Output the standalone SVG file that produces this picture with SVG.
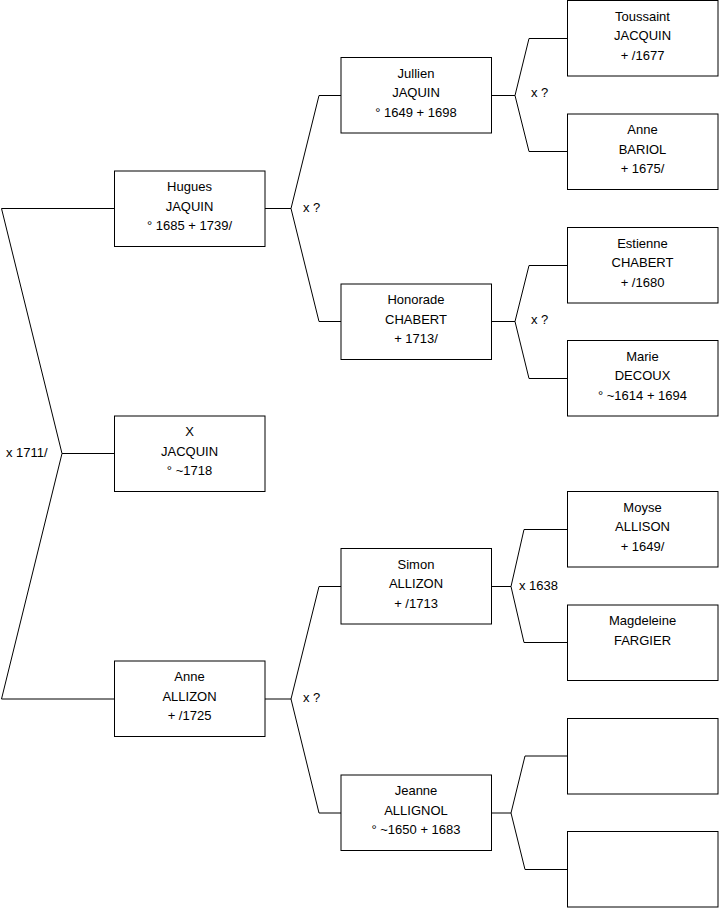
<svg xmlns="http://www.w3.org/2000/svg" width="719" height="908" viewBox="0 0 719 908">
<style>
rect.box{fill:#fff;stroke:#000;stroke-width:1}
text{font-family:"Liberation Sans",Arial,sans-serif;font-size:13px;fill:#000}
text.c{text-anchor:middle}
.conn path{fill:none;stroke:#000;stroke-width:1}
</style>
<rect width="719" height="908" fill="#fff"/>
<g class="conn" id="connectors">
<path d="M114,208.5H1.5L62,453.5H114M62,453.5L1.5,699H114"/>
<path d="M265,208.5H291L319,95.5H341M291,208.5L319,321.5H341"/>
<path d="M265,699H291L319,586.5H341M291,699L319,813H341"/>
<path d="M491,95.5H515L529,38.5H567M515,95.5L529,151.5H567"/>
<path d="M491,321.5H515L529,265.5H567M515,321.5L529,378.5H567"/>
<path d="M491,586.5H511L524,529.5H567M511,586.5L524,642.5H567"/>
<path d="M491,813H511L525,756H567M511,813L525,869.5H567"/>
<text x="6" y="457">x 1711/</text>
<text x="303" y="212">x ?</text>
<text x="303" y="702">x ?</text>
<text x="531" y="97">x ?</text>
<text x="531" y="324">x ?</text>
<text x="519" y="590">x 1638</text>
</g>
<g id="hugues"><rect class="box" x="114.5" y="171" width="150.5" height="75.5"/><text class="c" x="189.5" y="191">Hugues</text><text class="c" x="189.5" y="210.5">JAQUIN</text><text class="c" x="189.5" y="230">° 1685 + 1739/</text></g>
<g id="x-jacquin"><rect class="box" x="114.5" y="416" width="150.5" height="75.5"/><text class="c" x="189.5" y="436">X</text><text class="c" x="189.5" y="455.5">JACQUIN</text><text class="c" x="189.5" y="475">° ~1718</text></g>
<g id="anne-allizon"><rect class="box" x="114.5" y="661" width="150.5" height="75.5"/><text class="c" x="189.5" y="681">Anne</text><text class="c" x="189.5" y="700.5">ALLIZON</text><text class="c" x="189.5" y="720">+ /1725</text></g>
<g id="jullien"><rect class="box" x="341" y="57.5" width="150.5" height="75.5"/><text class="c" x="416" y="77.5">Jullien</text><text class="c" x="416" y="97">JAQUIN</text><text class="c" x="416" y="116.5">° 1649 + 1698</text></g>
<g id="honorade"><rect class="box" x="341" y="284" width="150.5" height="75.5"/><text class="c" x="416" y="304">Honorade</text><text class="c" x="416" y="323.5">CHABERT</text><text class="c" x="416" y="343">+ 1713/</text></g>
<g id="simon"><rect class="box" x="341" y="548.5" width="150.5" height="75.5"/><text class="c" x="416" y="568.5">Simon</text><text class="c" x="416" y="588">ALLIZON</text><text class="c" x="416" y="607.5">+ /1713</text></g>
<g id="jeanne"><rect class="box" x="341" y="775" width="150.5" height="75.5"/><text class="c" x="416" y="795">Jeanne</text><text class="c" x="416" y="814.5">ALLIGNOL</text><text class="c" x="416" y="834">° ~1650 + 1683</text></g>
<g id="toussaint"><rect class="box" x="567.5" y="0.5" width="150.5" height="75.5"/><text class="c" x="642.5" y="20.5">Toussaint</text><text class="c" x="642.5" y="40">JACQUIN</text><text class="c" x="642.5" y="59.5">+ /1677</text></g>
<g id="anne-bariol"><rect class="box" x="567.5" y="114" width="150.5" height="75.5"/><text class="c" x="642.5" y="134">Anne</text><text class="c" x="642.5" y="153.5">BARIOL</text><text class="c" x="642.5" y="173">+ 1675/</text></g>
<g id="estienne"><rect class="box" x="567.5" y="227.5" width="150.5" height="75.5"/><text class="c" x="642.5" y="247.5">Estienne</text><text class="c" x="642.5" y="267">CHABERT</text><text class="c" x="642.5" y="286.5">+ /1680</text></g>
<g id="marie"><rect class="box" x="567.5" y="340.5" width="150.5" height="75.5"/><text class="c" x="642.5" y="360.5">Marie</text><text class="c" x="642.5" y="380">DECOUX</text><text class="c" x="642.5" y="399.5">° ~1614 + 1694</text></g>
<g id="moyse"><rect class="box" x="567.5" y="491.5" width="150.5" height="75.5"/><text class="c" x="642.5" y="511.5">Moyse</text><text class="c" x="642.5" y="531">ALLISON</text><text class="c" x="642.5" y="550.5">+ 1649/</text></g>
<g id="magdeleine"><rect class="box" x="567.5" y="605" width="150.5" height="75.5"/><text class="c" x="642.5" y="625">Magdeleine</text><text class="c" x="642.5" y="644.5">FARGIER</text></g>
<g id="empty1"><rect class="box" x="567.5" y="718.5" width="150.5" height="75.5"/></g>
<g id="empty2"><rect class="box" x="567.5" y="831.5" width="150.5" height="75.5"/></g>
</svg>
